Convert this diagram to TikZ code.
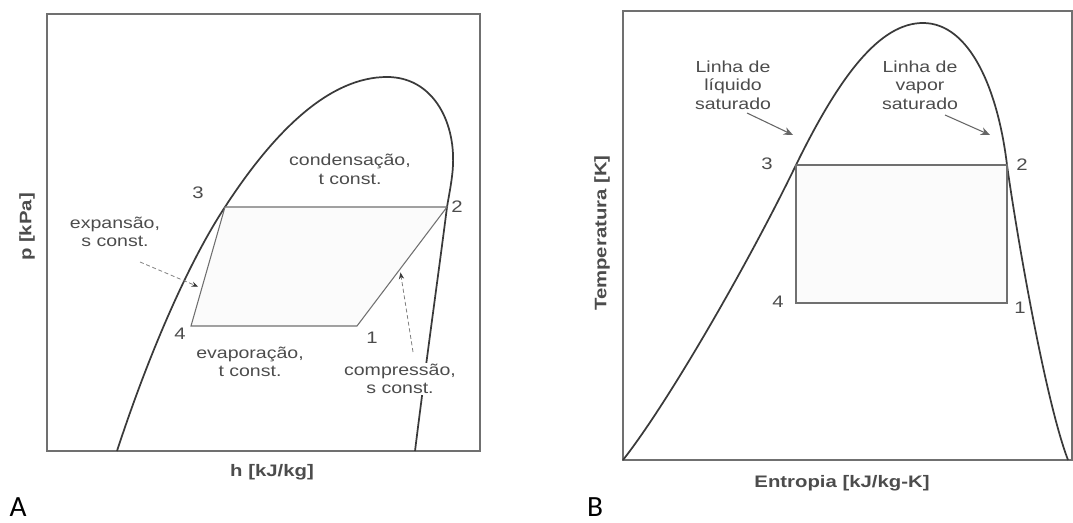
\documentclass[tikz,border=0pt]{standalone}
\usepackage{fontspec}
\setmainfont{Liberation Sans}
\newfontfamily\lblfont[FakeStretch=1.22]{Liberation Sans}
\newfontfamily\capfont{Carlito}
\usetikzlibrary{arrows.meta,calc}
\definecolor{linegray}{HTML}{3A3A3A}
\definecolor{framegray}{HTML}{707070}
\definecolor{txtgray}{HTML}{4C4C4C}

\tikzset{
  frame/.style={draw=framegray, line width=0.8pt},
  dome/.style={draw=linegray, line width=1.3pt},
  cycleline/.style={draw=framegray, line width=0.8pt, fill=gray!3},
  lbl/.style={font=\lblfont\fontsize{12}{14}\selectfont, text=txtgray, align=center, inner sep=1pt},
  num/.style={font=\lblfont\fontsize{12.5}{14}\selectfont, text=txtgray, inner sep=0pt},
  axlbl/.style={font=\lblfont\bfseries\fontsize{12.5}{14}\selectfont, text=txtgray},
  panel/.style={font=\capfont\fontsize{22}{24}\selectfont, text=black, inner sep=0pt, anchor=base},
  dasharrow/.style={draw=gray, densely dashed, line width=0.6pt, -{Stealth[length=5pt,width=4pt,color=linegray,fill=linegray]}},
  solarrow/.style={draw=gray!80!black, line width=0.8pt, -{Stealth[length=7pt,width=6pt]}}
}

\begin{document}
\begin{tikzpicture}[x=0.75pt,y=-0.75pt]
  \useasboundingbox (0,0) rectangle (1073,523);

  % ---- Panel A: p-h diagram ----
  \draw[frame] (47,14) rectangle (480,451);
  % saturation dome
  \draw[dome] (117,451) .. controls (150,350) and (190,260) .. (225,207)
    .. controls (275,130) and (330,77) .. (387,77)
    .. controls (432,77) and (455,120) .. (453,165)
    .. controls (452.5,178) and (449,195) .. (447,207)
    .. controls (441,255) and (425,370) .. (415,451);
  % cycle corners
  \coordinate (a3) at (225,207);
  \coordinate (a2) at (447,207);
  \coordinate (a1) at (357,326);
  \coordinate (a4) at (191,326);
  \draw[cycleline] (a3) -- (a2) -- (a1) -- (a4) -- cycle;
  % state numbers
  \node[num] (n3a) at (198,193) {3};
  \node[num] (n2a) at (457,207) {2};
  \node[num] (n4a) at (180,334) {4};
  \node[num] (n1a) at (372,338) {1};
  % process labels
  \node[lbl] (cond) at (350,169) {condensação,\\t const.};
  \node[lbl] (exp) at (115,232) {expansão,\\s const.};
  \node[lbl] (evap) at (250,362) {evaporação,\\t const.};
  \node[lbl, fill=white] (comp) at (400,379) {compressão,\\s const.};
  % pointer arrows
  \coordinate (expS) at (140,262);
  \coordinate (cmpS) at (413,352);
  \draw[dasharrow] (expS) -- ($(a3)!0.67!(a4)+(-4,0)$);
  \draw[dasharrow] (cmpS) -- ($(a1)!0.45!(a2)+(3,0)$);
  % axes
  \node[axlbl, rotate=90] (pax) at (27,227) {p [kPa]};
  \node[axlbl] (hax) at (272,472) {h [kJ/kg]};
  \node[panel] (capA) at (18,516) {A};

  % ---- Panel B: T-s diagram ----
  \draw[frame] (623,11) rectangle (1072,460);
  % saturation dome
  \draw[dome] (623,460) .. controls (670,400) and (750,260) .. (796,165)
    .. controls (840,75) and (880,23) .. (923,23)
    .. controls (970,23) and (998,90) .. (1007,165)
    .. controls (1016,230) and (1045,400) .. (1068,460);
  % cycle corners
  \coordinate (b3) at (796,165);
  \coordinate (b2) at (1007,165);
  \coordinate (b1) at (1007,303);
  \coordinate (b4) at (796,303);
  \draw[cycleline] (b3) -- (b2) -- (b1) -- (b4) -- cycle;
  % state numbers
  \node[num] (n3b) at (767,164) {3};
  \node[num] (n2b) at (1022,165) {2};
  \node[num] (n4b) at (778,302) {4};
  \node[num] (n1b) at (1020,308) {1};
  % saturation line labels
  \node[lbl] (liq) at (733,85) {Linha de\\líquido\\saturado};
  \node[lbl] (vap) at (920,85) {Linha de\\vapor\\saturado};
  \coordinate (liqS) at (747,113);
  \coordinate (liqE) at (793,135);
  \coordinate (vapS) at (945,115);
  \coordinate (vapE) at (990,135);
  \draw[solarrow] (liqS) -- (liqE);
  \draw[solarrow] (vapS) -- (vapE);
  % axes
  \node[axlbl, rotate=90] (tax) at (602,233) {Temperatura [K]};
  \node[axlbl] (sax) at (842,483) {Entropia [kJ/kg-K]};
  \node[panel] (capB) at (595,516) {B};
\end{tikzpicture}
\end{document}
